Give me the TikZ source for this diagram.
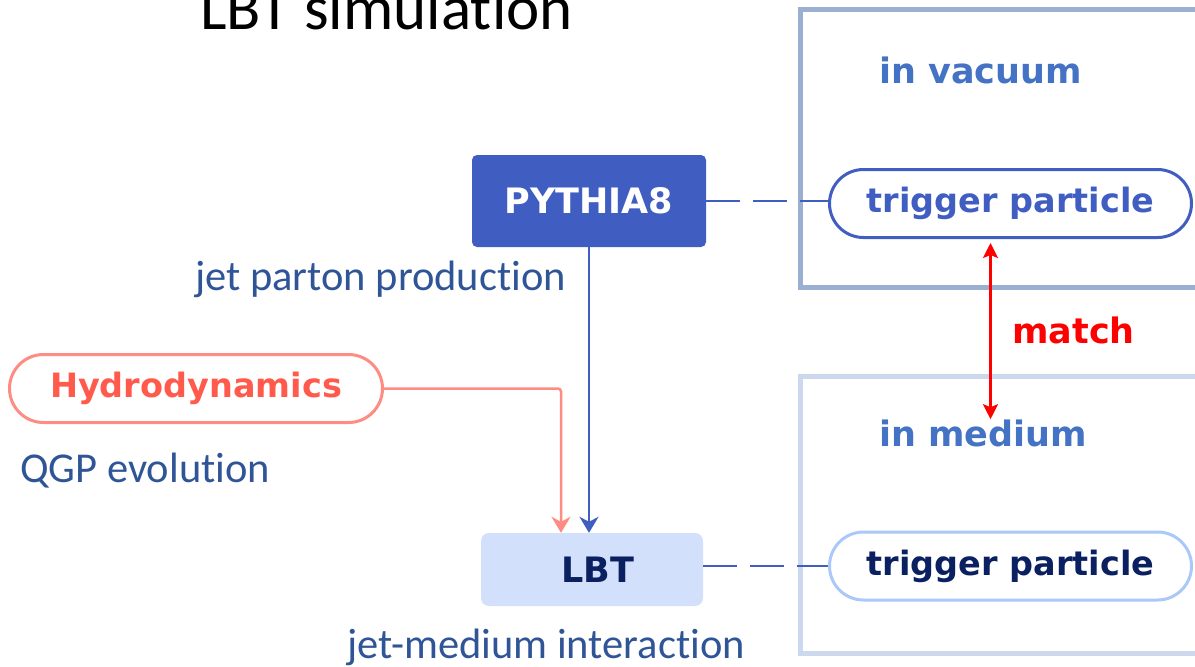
\documentclass[tikz,border=0pt]{standalone}
\usepackage{fontspec}
\setmainfont{Carlito}[Ligatures=NoCommon]
\newfontfamily\boldlbl{DejaVu Sans}[BoldFont={DejaVu Sans Bold}]
\usetikzlibrary{arrows.meta}

\definecolor{pyblue}{RGB}{64,93,194}
\definecolor{capblue}{RGB}{47,85,151}
\definecolor{headblue}{RGB}{68,114,196}
\definecolor{salmonline}{RGB}{255,140,130}
\definecolor{salmontext}{RGB}{255,90,75}
\definecolor{lbtfill}{RGB}{210,224,251}
\definecolor{navy}{RGB}{10,32,96}
\definecolor{frametop}{RGB}{155,175,208}
\definecolor{framebot}{RGB}{204,216,238}
\definecolor{pilllight}{RGB}{170,200,250}
\definecolor{matchred}{RGB}{255,0,0}

\tikzset{
  boldtxt/.style={font=\boldlbl\bfseries\fontsize{35}{40}\selectfont},
  caption/.style={anchor=base west, inner sep=0pt, text=capblue, font=\fontsize{42.5}{48}\selectfont},
  pill/.style={draw, line width=3pt, rounded corners=34pt, minimum width=362pt,
    minimum height=68pt, inner sep=0pt, fill=white, font=\boldlbl\bfseries\fontsize{33.5}{40}\selectfont},
  dashlink/.style={draw=pyblue, line width=2.5pt, dash pattern=on 34pt off 13pt},
  feed/.style={line width=2.5pt, -{Stealth[length=16pt, width=19pt, inset=5pt]}},
}

\begin{document}
\begin{tikzpicture}[x=1pt, y=-1pt]
\useasboundingbox (0,0) rectangle (1195,667);
\clip (0,0) rectangle (1195,667);

% title
\node[anchor=base west, inner sep=0pt, font=\fontsize{63}{70}\selectfont] (title) at (200,29) {LBT simulation};

% frames on the right, open towards the page edge
\draw[frametop, line width=5pt] (1200,9.5) -- (800.5,9.5) -- (800.5,287.5) -- (1200,287.5);
\draw[framebot, line width=5pt] (1200,376) -- (800.5,376) -- (800.5,653) -- (1200,653);

\node[anchor=base west, inner sep=0pt, boldtxt, text=headblue] (vac) at (879,83) {in vacuum};
\node[anchor=base west, inner sep=0pt, boldtxt, text=headblue] (med) at (879,446) {in medium};

% main blocks
\node[fill=pyblue, rounded corners=5pt, minimum width=234pt, minimum height=92pt,
  inner sep=0pt, boldtxt, text=white] (py) at (589,201) {PYTHIA8};
\node[fill=lbtfill, rounded corners=8pt, minimum width=222pt, minimum height=73pt,
  inner sep=0pt, boldtxt, text=navy] (lbt) at (592,569.5) {\hspace*{12pt}LBT};
\node[pill, draw=salmonline, text=salmontext, minimum width=373pt] (hy) at (196,388.5) {Hydrodynamics};

\node[pill, draw=pyblue, text=pyblue] (t1) at (1010.5,203.5) {trigger particle};
\node[pill, draw=pilllight, text=navy] (t2) at (1010.5,566) {trigger particle};

% captions
\node[caption] (c1) at (195,290) {jet parton production};
\node[caption] (c2) at (20,482) {QGP evolution};
\node[caption] (c3) at (347,658) {jet-medium interaction};

% links to the trigger particles
\draw[dashlink] (py.east) -- (py.east -| t1.west);
\draw[dashlink] (lbt.east |- t2.west) -- (t2.west);

% inputs to LBT
\draw[feed, salmonline, rounded corners=3pt] (hy.east) -| ([xshift=-31pt]lbt.north);
\draw[feed, pyblue] (py.south) -- (py.south |- lbt.north);

% matching between the two trigger particles
\draw[matchred, line width=2.5pt, {Stealth[length=15pt, width=15pt, inset=3pt]}-{Stealth[length=15pt, width=15pt, inset=3pt]}]
  ([xshift=-20pt, yshift=-4pt]t1.south) -- ([xshift=-20pt]t1.south |- med.north);
\node[anchor=base west, inner sep=0pt, boldtxt, text=matchred] (match) at (1012,343) {match};
\end{tikzpicture}
\end{document}
